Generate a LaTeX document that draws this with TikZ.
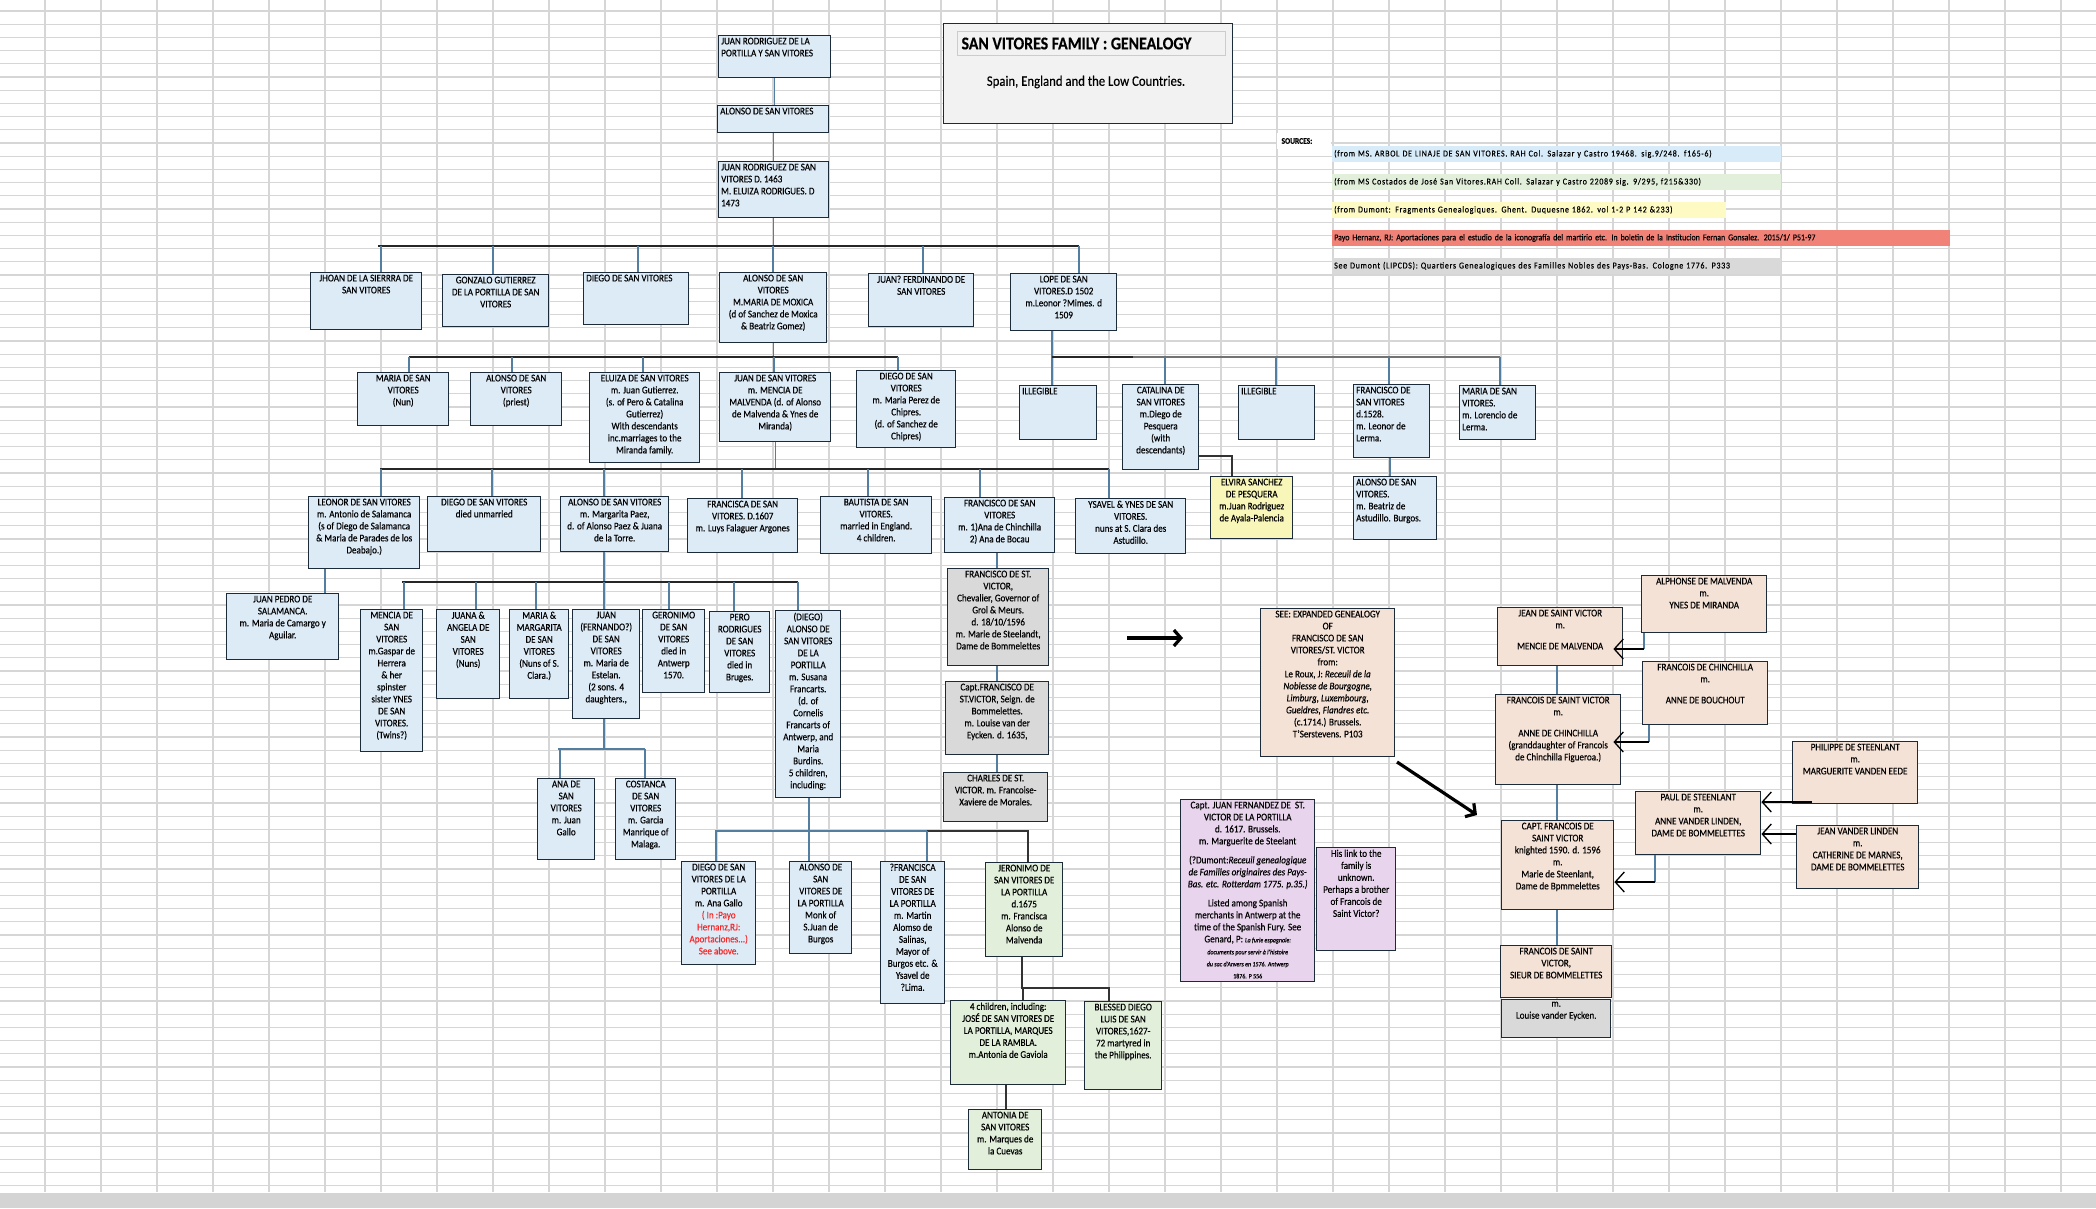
\documentclass[tikz,border=0pt]{standalone}
\usepackage{fontspec}
\setmainfont{Carlito}[FakeStretch=0.88, FakeBold=0.35]
\usetikzlibrary{positioning, arrows.meta}

\definecolor{cellblue}{RGB}{221,235,247}
\definecolor{cellgreen}{RGB}{226,239,218}
\definecolor{cellyellow}{RGB}{249,246,186}
\definecolor{cellgray}{RGB}{217,217,217}
\definecolor{cellpeach}{RGB}{245,226,214}
\definecolor{cellpurple}{RGB}{232,212,237}
\definecolor{cellborder}{RGB}{28,43,57}
\definecolor{linkblue}{RGB}{84,126,160}
\definecolor{titlegray}{RGB}{242,242,242}
\definecolor{srcblue}{RGB}{216,235,248}
\definecolor{srcgreen}{RGB}{226,239,218}
\definecolor{srcyellow}{RGB}{254,250,196}
\definecolor{srcred}{RGB}{240,130,120}
\definecolor{srcgray}{RGB}{217,217,217}
\definecolor{textred}{RGB}{245,40,40}

% one family cell: name, x1, y1, x2, y2, fill, text
\newcommand{\famcell}[7]{%
  \pgfmathsetmacro{\cellw}{#4-#2}\pgfmathsetmacro{\cellh}{#5-#3}%
  \node[cell, fill=#6, minimum width=\cellw pt, minimum height=\cellh pt, anchor=north west] (#1) at (#2,#3) {};
  \node[celltext, align=center, below=2.5pt of #1.north] (#1-t) {#7};}
\newcommand{\famcellL}[7]{%
  \pgfmathsetmacro{\cellw}{#4-#2}\pgfmathsetmacro{\cellh}{#5-#3}%
  \node[cell, fill=#6, minimum width=\cellw pt, minimum height=\cellh pt, anchor=north west] (#1) at (#2,#3) {};
  \node[celltext, align=left, below right=2.5pt and 3pt of #1.north west] (#1-t) {#7};}

\begin{document}
\begin{tikzpicture}[x=1pt, y=-1pt, font=\fontsize{10.3}{12}\selectfont,
  cell/.style={rectangle, draw=cellborder, line width=1.4pt, inner sep=0pt},
  celltext/.style={inner sep=0pt, text=black},
  gridline/.style={draw=black!16, line width=1.2pt},
  link/.style={draw=linkblue, line width=1.2pt},
  bus/.style={draw=black!85, line width=1.8pt},
  darklink/.style={draw=black!80, line width=1.3pt},
  famarrow/.style={draw=black, line width=1.3pt, -{Straight Barb[length=9pt, width=20pt]}},
  bigarrow/.style={draw=black, line width=3.2pt, -{Straight Barb[length=7pt, width=16pt]}},
  srcrow/.style={anchor=north west, minimum height=15.5pt, inner xsep=2pt, inner ysep=0pt, align=left, font=\fontsize{9}{10}\selectfont},
  srcspaced/.style={srcrow, font=\fontsize{9}{10}\selectfont\addfontfeatures{LetterSpace=8}}]

% --- sheet and grid ---
\useasboundingbox (0,0) rectangle (2096,1208);
\fill[white] (0,0) rectangle (2096,1208);
\foreach \gx in {45,101,...,2093} \draw[gridline] (\gx,0) -- (\gx,1192);
\foreach \k in {0,...,89} \draw[gridline] (0,{11+13.2*\k}) -- (2096,{11+13.2*\k});
\fill[black!17] (0,1193) rectangle (2096,1208);

% --- title ---
\node[draw=cellborder, fill=titlegray, line width=1.4pt, minimum width=289pt, minimum height=100pt, anchor=north west] (titlebox) at (943,23) {};
\node[draw=black!20, fill=titlegray, line width=1pt, minimum width=268pt, minimum height=24pt, anchor=north west] (titlebar) at (957,31) {};
\node[anchor=west, font=\fontsize{18}{20}\selectfont\bfseries] (title) at (958,43.5) {SAN VITORES FAMILY : GENEALOGY};
\node[font=\fontsize{14.5}{16}\selectfont] (subtitle) at (1086,82) {Spain, England and the Low Countries.};

% --- sources ---
\fill[white] (1277,133) rectangle (1331,149);
\node[anchor=west, font=\fontsize{8.5}{9}\selectfont\bfseries] (srclabel) at (1278,141) {SOURCES:};
\node[srcspaced, fill=srcblue, text width=445pt] (src1) at (1332,146) {(from MS. ARBOL DE LINAJE DE SAN VITORES. RAH Col. Salazar y Castro 19468. sig.9/248. f165-6)};
\node[srcspaced, fill=srcgreen, text width=445pt] (src2) at (1332,174) {(from MS Costados de José San Vitores.RAH Coll. Salazar y Castro 22089 sig. 9/295, f215\&330)};
\node[srcspaced, fill=srcyellow, text width=390pt] (src3) at (1332,202) {(from Dumont: Fragments Genealogiques. Ghent. Duquesne 1862. vol 1-2 P 142 \&233)};
\node[srcrow, fill=srcred, text width=614pt] (src4) at (1332,230) {Payo Hernanz, RJ: Aportaciones para el estudio de la iconografía del martirio etc. In boletin de la Institucion Fernan Gonsalez. 2015/1/ P51-97};
\node[srcspaced, fill=srcgray, text width=445pt] (src5) at (1332,258) {See Dumont (LIPCDS): Quartiers Genealogiques des Familles Nobles des Pays-Bas. Cologne 1776. P333};

% --- first generations ---
\famcellL{jrp}{718}{35}{830}{77}{cellblue}{JUAN RODRIGUEZ DE LA\\PORTILLA Y SAN VITORES}
\famcellL{alonsoA}{717}{105}{828}{132}{cellblue}{ALONSO DE SAN VITORES}
\famcellL{jrod}{718}{161}{828}{217}{cellblue}{JUAN RODRIGUEZ DE SAN\\VITORES D. 1463\\M. ELUIZA RODRIGUES. D\\1473}

\famcell{jhoan}{310}{272}{421}{329}{cellblue}{JHOAN DE LA SIERRRA DE\\SAN VITORES}
\famcell{gonzalo}{442}{274}{548}{326}{cellblue}{GONZALO GUTIERREZ\\DE LA PORTILLA DE SAN\\VITORES}
\famcellL{diegoA}{583}{272}{688}{324}{cellblue}{DIEGO DE SAN VITORES}
\famcell{alonsoB}{719}{272}{826}{342}{cellblue}{ALONSO DE SAN\\VITORES\\M.MARIA DE MOXICA\\(d of Sanchez de Moxica\\\& Beatriz Gomez)}
\famcell{juanq}{868}{273}{973}{326}{cellblue}{JUAN? FERDINANDO DE\\SAN VITORES}
\famcell{lope}{1010}{273}{1116}{330}{cellblue}{LOPE DE SAN\\VITORES.D 1502\\m.Leonor ?Mimes. d\\1509}

% --- children of Alonso and of Lope ---
\famcell{mariaN}{357}{372}{448}{425}{cellblue}{MARIA DE SAN\\VITORES\\(Nun)}
\famcell{alonsoP}{470}{372}{561}{425}{cellblue}{ALONSO DE SAN\\VITORES\\(priest)}
\famcell{eluiza}{589}{372}{699}{462}{cellblue}{ELUIZA DE SAN VITORES\\m. Juan Gutierrez.\\(s. of Pero \& Catalina\\Gutierrez)\\With descendants\\inc.marriages to the\\Miranda family.}
\famcell{juanM}{719}{372}{830}{441}{cellblue}{JUAN DE SAN VITORES\\m. MENCIA DE\\MALVENDA (d. of Alonso\\de Malvenda \& Ynes de\\Miranda)}
\famcell{diegoC}{856}{370}{955}{447}{cellblue}{DIEGO DE SAN\\VITORES\\m. Maria Perez de\\Chipres.\\(d. of Sanchez de\\Chipres)}
\famcellL{illA}{1019}{385}{1096}{439}{cellblue}{ILLEGIBLE}
\famcell{catalina}{1122}{384}{1198}{469}{cellblue}{CATALINA DE\\SAN VITORES\\m.Diego de\\Pesquera\\(with\\descendants)}
\famcellL{illB}{1238}{385}{1314}{439}{cellblue}{ILLEGIBLE}
\famcellL{franD}{1353}{384}{1429}{457}{cellblue}{FRANCISCO DE\\SAN VITORES\\d.1528.\\m. Leonor de\\Lerma.}
\famcellL{mariaL}{1459}{385}{1535}{439}{cellblue}{MARIA DE SAN\\VITORES.\\m. Lorencio de\\Lerma.}
\famcell{elvira}{1210}{476}{1292}{538}{cellyellow}{ELVIRA SANCHEZ\\DE PESQUERA\\m.Juan Rodriguez\\de Ayala-Palencia}
\famcellL{alonsoBe}{1353}{476}{1436}{539}{cellblue}{ALONSO DE SAN\\VITORES.\\m. Beatriz de\\Astudillo. Burgos.}

% --- children of Juan and Mencia ---
\famcell{leonor}{308}{496}{419}{568}{cellblue}{LEONOR DE SAN VITORES\\m. Antonio de Salamanca\\(s of Diego de Salamanca\\\& Maria de Parades de los\\Deabajo.)}
\famcell{diegoU}{427}{496}{540}{551}{cellblue}{DIEGO DE SAN VITORES\\died unmarried}
\famcell{alonsoMP}{560}{496}{668}{551}{cellblue}{ALONSO DE SAN VITORES\\m. Margarita Paez,\\d. of Alonso Paez \& Juana\\de la Torre.}
\famcell{francisca}{687}{498}{797}{552}{cellblue}{FRANCISCA DE SAN\\VITORES. D.1607\\m. Luys Falaguer Argones}
\famcell{bautista}{820}{496}{931}{553}{cellblue}{BAUTISTA DE SAN\\VITORES.\\married in England.\\4 children.}
\famcell{franAna}{944}{497}{1054}{552}{cellblue}{FRANCISCO DE SAN\\VITORES\\m. 1)Ana de Chinchilla\\2) Ana de Bocau}
\famcell{ysavel}{1075}{498}{1185}{553}{cellblue}{YSAVEL \& YNES DE SAN\\VITORES.\\nuns at S. Clara des\\Astudillo.}
\famcell{juanpedro}{226}{593}{338}{659}{cellblue}{JUAN PEDRO DE\\SALAMANCA.\\m. Maria de Camargo y\\Aguilar.}

% --- children of Alonso and Margarita ---
\famcell{mencia}{360}{609}{422}{751}{cellblue}{MENCIA DE\\SAN\\VITORES\\m.Gaspar de\\Herrera\\\& her\\spinster\\sister YNES\\DE SAN\\VITORES.\\(Twins?)}
\famcell{juana}{436}{609}{499}{698}{cellblue}{JUANA \&\\ANGELA DE\\SAN\\VITORES\\(Nuns)}
\famcell{mariaM}{509}{609}{568}{698}{cellblue}{MARIA \&\\MARGARITA\\DE SAN\\VITORES\\(Nuns of S.\\Clara.)}
\famcell{juanF}{572}{609}{639}{718}{cellblue}{JUAN\\(FERNANDO?)\\DE SAN\\VITORES\\m. Maria de\\Estelan.\\(2 sons. 4\\daughters.,}
\famcell{geronimo}{642}{609}{704}{692}{cellblue}{GERONIMO\\DE SAN\\VITORES\\died in\\Antwerp\\1570.}
\famcell{pero}{709}{611}{769}{692}{cellblue}{PERO\\RODRIGUES\\DE SAN\\VITORES\\died in\\Bruges.}
\famcell{diegoAl}{775}{610}{840}{797}{cellblue}{(DIEGO)\\ALONSO DE\\SAN VITORES\\DE LA\\PORTILLA\\m. Susana\\Francarts.\\(d. of\\Cornelis\\Francarts of\\Antwerp, and\\Maria\\Burdins.\\5 children,\\including:}
\famcell{ana}{537}{778}{594}{859}{cellblue}{ANA DE\\SAN\\VITORES\\m. Juan\\Gallo}
\famcell{costanca}{615}{778}{675}{859}{cellblue}{COSTANCA\\DE SAN\\VITORES\\m. Garcia\\Manrique of\\Malaga.}

% --- St. Victor line ---
\famcell{fsv}{947}{568}{1048}{665}{cellgray}{FRANCISCO DE ST.\\VICTOR,\\Chevalier, Governor of\\Grol \& Meurs.\\d. 18/10/1596\\m. Marie de Steelandt,\\Dame de Bommelettes}
\famcell{captF}{945}{681}{1048}{754}{cellgray}{Capt.FRANCISCO DE\\ST.VICTOR, Seign. de\\Bommelettes.\\m. Louise van der\\Eycken. d. 1635,}
\famcell{charles}{943}{772}{1047}{821}{cellgray}{CHARLES DE ST.\\VICTOR. m. Francoise-\\Xaviere de Morales.}

% --- children of (Diego) Alonso ---
\famcell{diegoP}{681}{861}{755}{964}{cellblue}{DIEGO DE SAN\\VITORES DE LA\\PORTILLA\\m. Ana Gallo\\\textcolor{textred}{( In :Payo}\\\textcolor{textred}{Hernanz,RJ:}\\\textcolor{textred}{Aportaciones...)}\\\textcolor{textred}{See above.}}
\famcell{alonsoMk}{789}{861}{851}{953}{cellblue}{ALONSO DE\\SAN\\VITORES DE\\LA PORTILLA\\Monk of\\S.Juan de\\Burgos}
\famcell{franQ}{880}{861}{944}{1003}{cellblue}{?FRANCISCA\\DE SAN\\VITORES DE\\LA PORTILLA\\m. Martin\\Alomso de\\Salinas,\\Mayor of\\Burgos etc. \&\\Ysavel de\\?Lima.}
\famcell{jeronimo}{985}{862}{1062}{956}{cellgreen}{JERONIMO DE\\SAN VITORES DE\\LA PORTILLA\\d.1675\\m. Francisca\\Alonso de\\Malvenda}
\famcell{fourch}{950}{1000}{1065}{1084}{cellgreen}{4 children, including:\\JOSÉ DE SAN VITORES DE\\LA PORTILLA, MARQUES\\DE LA RAMBLA.\\m.Antonia de Gaviola}
\famcell{blessed}{1084}{1001}{1161}{1089}{cellgreen}{BLESSED DIEGO\\LUIS DE SAN\\VITORES,1627-\\72 martyred in\\the Philippines.}
\famcell{antonia}{968}{1109}{1041}{1169}{cellgreen}{ANTONIA DE\\SAN VITORES\\m. Marques de\\la Cuevas}

% --- notes ---
\famcell{seeexp}{1260}{608}{1394}{756}{cellpeach}{SEE: EXPANDED GENEALOGY\\OF\\FRANCISCO DE SAN\\VITORES/ST. VICTOR\\from:\\Le Roux, J: \textit{Receuil de la}\\\textit{Noblesse de Bourgogne,}\\\textit{Limburg, Luxembourg,}\\\textit{Gueldres, Flandres etc.}\\(c.1714.) Brussels.\\T'Serstevens. P103}
\famcell{juanFern}{1180}{799}{1314}{981}{cellpurple}{Capt. JUAN FERNANDEZ DE\ \ ST.\\VICTOR DE LA PORTILLA\\d. 1617. Brussels.\\m. Marguerite de Steelant\\[7pt](?Dumont:\textit{Receuil genealogique}\\\textit{de Familles originaires des Pays-}\\\textit{Bas. etc. Rotterdam 1775. p.35.)}\\[7pt]Listed among Spanish\\merchants in Antwerp at the\\time of the Spanish Fury. See\\Genard, P: {\fontsize{6.8}{8}\selectfont\itshape La furie espagnole:}\\{\fontsize{6.8}{8}\selectfont\itshape documents pour servir à l'histoire}\\{\fontsize{6.8}{8}\selectfont\itshape du sac d'Anvers en 1576. Antwerp}\\{\fontsize{6.8}{8}\selectfont 1876. P 556}}
\famcell{hislink}{1316}{847}{1395}{950}{cellpurple}{His link to the\\family is\\unknown.\\Perhaps a brother\\of Francois de\\Saint Victor?}

% --- Saint Victor and allied houses ---
\famcell{alphonse}{1641}{575}{1766}{632}{cellpeach}{ALPHONSE DE MALVENDA\\m.\\YNES DE MIRANDA}
\famcell{jeanSV}{1497}{607}{1622}{665}{cellpeach}{JEAN DE SAINT VICTOR\\m.\\[9pt]MENCIE DE MALVENDA}
\famcell{franChin}{1642}{661}{1767}{724}{cellpeach}{FRANCOIS DE CHINCHILLA\\m.\\[9pt]ANNE DE BOUCHOUT}
\famcell{francoisSV}{1495}{694}{1620}{784}{cellpeach}{FRANCOIS DE SAINT VICTOR\\m.\\[9pt]ANNE DE CHINCHILLA\\(granddaughter of Francois\\de Chinchilla Figueroa.)}
\famcell{philippe}{1792}{741}{1917}{803}{cellpeach}{PHILIPPE DE STEENLANT\\m.\\MARGUERITE VANDEN EEDE}
\famcell{paul}{1635}{791}{1760}{854}{cellpeach}{PAUL DE STEENLANT\\m.\\ANNE VANDER LINDEN,\\DAME DE BOMMELETTES}
\famcell{jeanVL}{1796}{825}{1918}{888}{cellpeach}{JEAN VANDER LINDEN\\m.\\CATHERINE DE MARNES,\\DAME DE BOMMELETTES}
\famcell{captFr}{1501}{820}{1613}{909}{cellpeach}{CAPT. FRANCOIS DE\\SAINT VICTOR\\knighted 1590. d. 1596\\m.\\Marie de Steenlant,\\Dame de Bpmmelettes}
\famcell{sieur}{1500}{945}{1611}{997}{cellpeach}{FRANCOIS DE SAINT\\VICTOR,\\SIEUR DE BOMMELETTES}
\famcell{louise}{1501}{999}{1610}{1037}{cellgray}{m.\\Louise vander Eycken.}

% --- connectors: first generations ---
\draw[link] (jrp.south) -- (jrp.south |- alonsoA.north);
\draw[link] (alonsoA.south) -- (alonsoA.south |- jrod.north);
\coordinate (busA-l) at (378,246);
\coordinate (busA-r) at (1079,246);
\draw[link] (jrod.south) -- (jrod.south |- busA-l);
\draw[bus] (busA-l) -- (busA-r);
\foreach \n/\x in {jhoan/381, gonzalo/493, diegoA/638, alonsoB/773, juanq/923, lope/1079}
  \draw[link] (\x,246) -- (\n.north -| \x,0);

% --- connectors: Alonso's and Lope's children ---
\coordinate (busB-l) at (409,357);
\coordinate (busB-r) at (898,357);
\draw[link] (alonsoB.south) -- (alonsoB.south |- busB-l);
\draw[bus] (busB-l) -- (busB-r);
\foreach \n/\x in {mariaN/409, alonsoP/512, eluiza/643, juanM/774, diegoC/898}
  \draw[link] (\x,357) -- (\n.north -| \x,0);
\coordinate (busC-l) at (1052,357);
\coordinate (busC-m) at (1133,357);
\coordinate (busC-r) at (1500,357);
\draw[link] (lope.south -| busC-l) -- (illA.north -| busC-l);
\draw[bus] (busC-l) -- (busC-m);
\draw[bus, draw=black!55] (busC-m) -- (busC-r);
\foreach \n/\x in {catalina/1165, illB/1276, franD/1389, mariaL/1500}
  \draw[link] (\x,357) -- (\n.north -| \x,0);
\draw[darklink] (catalina.east |- 0,456) -| (elvira.north -| 1232,0);
\draw[link] (franD.south -| 1390,0) -- (alonsoBe.north -| 1390,0);

% --- connectors: Juan and Mencia's children ---
\coordinate (busD-l) at (380,469);
\coordinate (busD-r) at (1109,469);
\draw[link] (juanM.south) -- (juanM.south |- busD-l);
\draw[bus] (busD-l) -- (busD-r);
\foreach \n/\x in {leonor/381, diegoU/492, alonsoMP/604, francisca/742, bautista/868, franAna/980, ysavel/1109}
  \draw[link] (\x,469) -- (\n.north -| \x,0);
\draw[link] (leonor.south -| 325,0) -- (juanpedro.north -| 325,0);

% --- connectors: Alonso and Margarita's children ---
\coordinate (busE-l) at (402,582);
\coordinate (busE-r) at (798,582);
\draw[link] (alonsoMP.south -| 604,0) -- (busE-l -| 604,0);
\draw[bus] (busE-l) -- (busE-r);
\foreach \n/\x in {mencia/404, juana/476, mariaM/536, juanF/604, geronimo/669, pero/734, diegoAl/798}
  \draw[link] (\x,582) -- (\n.north -| \x,0);
\coordinate (busF-l) at (558,749);
\coordinate (busF-r) at (645,749);
\draw[link] (juanF.south -| 604,0) -- (busF-l -| 604,0);
\draw[link] (busF-l) -- (busF-r);
\foreach \n/\x in {ana/560, costanca/645}
  \draw[link] (\x,749) -- (\n.north -| \x,0);

% --- connectors: St. Victor line ---
\draw[link] (franAna.south -| 997,0) -- (fsv.north -| 997,0);
\draw[link] (fsv.south -| 997,0) -- (captF.north -| 997,0);
\draw[link] (captF.south -| 997,0) -- (charles.north -| 997,0);

% --- connectors: (Diego) Alonso's children ---
\coordinate (busG-l) at (715,831);
\coordinate (busG-m) at (927,831);
\coordinate (busG-r) at (1028,831);
\draw[link] (diegoAl.south -| 809,0) -- (busG-l -| 809,0);
\draw[link] (busG-l) -- (busG-m);
\draw[darklink] (busG-m) -- (busG-r) -- (jeronimo.north -| busG-r);
\foreach \n/\x in {diegoP/716, alonsoMk/809, franQ/927}
  \draw[link] (\x,831) -- (\n.north -| \x,0);
\coordinate (busH-l) at (1022,988);
\coordinate (busH-r) at (1109,988);
\draw[darklink] (jeronimo.south -| busH-l) -- (busH-l) -- (busH-r) -- (blessed.north -| busH-r);
\draw[darklink] (busH-l -| 1023,0) -- (fourch.north -| 1023,0);
\draw[darklink] (fourch.south -| 1006,0) -- (antonia.north -| 1006,0);

% --- connectors: Saint Victor houses ---
\draw[link] (jeanSV.south -| 1557,0) -- (francoisSV.north -| 1557,0);
\draw[link] (francoisSV.south -| 1557,0) -- (captFr.north -| 1557,0);
\draw[link] (captFr.south -| 1557,0) -- (sieur.north -| 1557,0);
\coordinate (alphK) at (1644,649);
\draw[link] (alphonse.south -| alphK) -- (alphK);
\draw[famarrow, shorten >=-10pt] (alphK) -- (jeanSV.east |- alphK);
\coordinate (chinK) at (1649,742);
\draw[link] (franChin.south -| chinK) -- (chinK);
\draw[famarrow, shorten >=-8pt] (chinK) -- (francoisSV.east |- chinK);
\coordinate (philK) at (1812,802);
\draw[famarrow] (philK) -- (paul.east |- philK);
\draw[famarrow] (jeanVL.west |- 0,834) -- (paul.east |- 0,834);
\coordinate (paulK) at (1655,882);
\draw[link] (paul.south -| paulK) -- (paulK);
\draw[famarrow] (paulK) -- (captFr.east |- paulK);

% --- pointers to the expanded genealogy ---
\coordinate (ptrA-s) at (1127,638);
\coordinate (ptrA-e) at (1183,638);
\draw[bigarrow] (ptrA-s) -- (ptrA-e);
\coordinate (ptrB-s) at (1397,762);
\coordinate (ptrB-e) at (1477,815);
\draw[bigarrow] (ptrB-s) -- (ptrB-e);
\end{tikzpicture}
\end{document}
